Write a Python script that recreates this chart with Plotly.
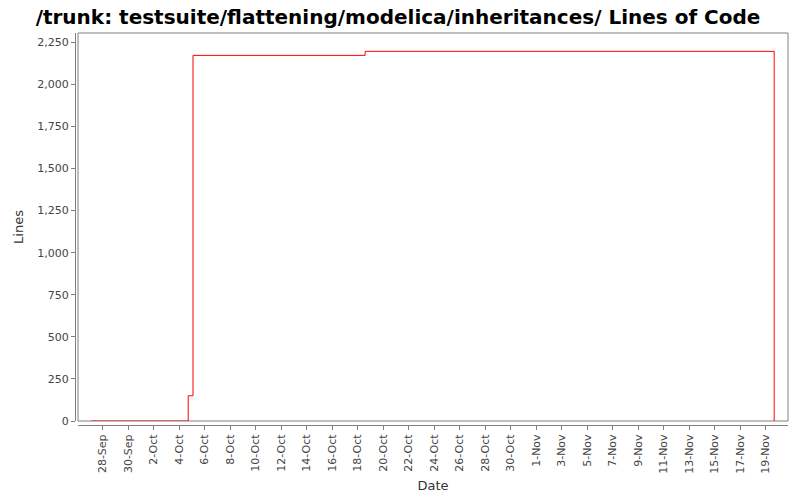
import plotly.graph_objects as go

# Data (step series)
dates = ["2009-09-27 02:00", "2009-10-04 17:00", "2009-10-05 02:00",
         "2009-10-18 14:00", "2009-11-19 16:00", "2009-11-19 16:00"]
lines = [0, 150, 2172, 2196, 2196, 0]

tick_dates = ["2009-09-28", "2009-09-30", "2009-10-02", "2009-10-04", "2009-10-06",
              "2009-10-08", "2009-10-10", "2009-10-12", "2009-10-14", "2009-10-16",
              "2009-10-18", "2009-10-20", "2009-10-22", "2009-10-24", "2009-10-26",
              "2009-10-28", "2009-10-30", "2009-11-01", "2009-11-03", "2009-11-05",
              "2009-11-07", "2009-11-09", "2009-11-11", "2009-11-13", "2009-11-15",
              "2009-11-17", "2009-11-19"]
tick_labels = ["28-Sep", "30-Sep", "2-Oct", "4-Oct", "6-Oct", "8-Oct", "10-Oct", "12-Oct",
               "14-Oct", "16-Oct", "18-Oct", "20-Oct", "22-Oct", "24-Oct", "26-Oct",
               "28-Oct", "30-Oct", "1-Nov", "3-Nov", "5-Nov", "7-Nov", "9-Nov", "11-Nov",
               "13-Nov", "15-Nov", "17-Nov", "19-Nov"]
y_ticks = [0, 250, 500, 750, 1000, 1250, 1500, 1750, 2000, 2250]

fig = go.Figure()
fig.add_trace(go.Scatter(x=dates, y=lines, mode="lines",
                         line=dict(color="#ff0000", width=1, shape="hv"),
                         hoverinfo="skip"))

grey = "#808080"
tickfont = dict(family="DejaVu Sans", size=11, color="#444444")
# page body has an 8px default margin: figure is sized 792x492 to fill the 800x500 window
fig.update_layout(
    width=792, height=492,
    margin=dict(l=67, r=12, t=25, b=75, autoexpand=False),
    paper_bgcolor="white", plot_bgcolor="white",
    showlegend=False,
    title=dict(text="<b>/trunk: testsuite/flattening/modelica/inheritances/ Lines of Code</b>",
               x=390/792, xanchor="center", xref="container",
               y=1 - 8.5/492, yanchor="middle", yref="container",
               font=dict(family="DejaVu Sans", size=20, color="#000000")),
    xaxis=dict(type="date", domain=[3/713, 1], anchor="free", position=0,
               range=["2009-09-26 01:30", "2009-11-20 18:00"],
               tickvals=tick_dates, ticktext=tick_labels, tickangle=-90,
               ticks="outside", ticklen=4, tickcolor=grey, automargin=False,
               showline=True, linecolor=grey, linewidth=1,
               showgrid=False, zeroline=False, tickfont=tickfont,
               title=dict(text="Date", font=dict(family="DejaVu Sans", size=13, color="#333333"),
                          standoff=8)),
    yaxis=dict(domain=[4/392, 1], anchor="free", position=0,
               range=[0, 2305], tickvals=y_ticks,
               ticktext=[f"{v:,}" for v in y_ticks],
               ticks="outside", ticklen=4, tickcolor=grey, automargin=False,
               showline=True, linecolor=grey, linewidth=1,
               showgrid=False, zeroline=False, tickfont=tickfont,
               title=dict(text="Lines", font=dict(family="DejaVu Sans", size=13, color="#333333"),
                          standoff=9)),
    shapes=[dict(type="rect", xref="x domain", yref="y domain", x0=0, x1=1, y0=0, y1=1,
                 line=dict(color=grey, width=1), layer="below")],
)

fig.write_html("out.html")
